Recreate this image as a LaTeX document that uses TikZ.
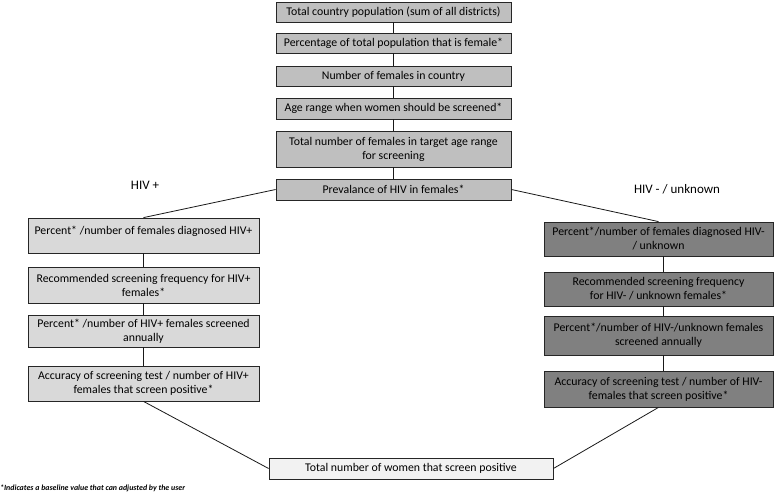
\documentclass[tikz,border=0pt]{standalone}
\usepackage{fontspec}
\setmainfont{Carlito}
\begin{document}
\begin{tikzpicture}[x=1pt,y=-1pt,
  box/.style={draw=black!85, line width=0.8pt, rectangle, align=center, inner sep=2pt, font=\fontsize{11.8}{14}\selectfont},
  topbox/.style={box, fill=black!25, minimum width=235pt},
  leftbox/.style={box, fill=black!15, minimum width=231pt},
  rightbox/.style={box, fill=black!50, minimum width=229pt},
  botbox/.style={box, fill=black!5, minimum width=284pt, minimum height=21pt},
  conn/.style={draw=black!90, line width=0.8pt},
  grp/.style={font=\fontsize{13}{15}\selectfont}]
\useasboundingbox (0,0) rectangle (778,500);
\fill[white] (0,0) rectangle (778,500);
% top column
\node[topbox, minimum height=20pt] (b1) at (393.5,12) {Total country population (sum of all districts)};
\node[topbox, minimum height=20pt] (b2) at (393.5,43) {Percentage of total population that is female*};
\node[topbox, minimum height=20pt] (b3) at (393.5,76) {Number of females in country};
\node[topbox, minimum height=21pt] (b4) at (393.5,108.5) {Age range when women should be screened*};
\node[topbox, minimum height=36pt] (b5) at (393.5,149) {Total number of females in target age range\\for screening};
\node[topbox, minimum height=21pt] (b6) at (393.5,189.5) {Prevalance of HIV in females*};
% labels
\node[grp] (hp) at (145,185) {HIV +};
\node[grp] (hn) at (677,189) {HIV - / unknown};
% left column
\node[leftbox, minimum height=35pt] (l1) at (143.5,235.5) {};
\node[box, draw=none, fill=none] (l1t) at (143.5,231) {Percent* /number of females diagnosed HIV+};
\node[leftbox, minimum height=36pt] (l2) at (143.5,285) {Recommended screening frequency for HIV+\\females*};
\node[leftbox, minimum height=32pt] (l3) at (143.5,331) {Percent* /number of HIV+ females screened\\annually};
\node[leftbox, minimum height=35pt] (l4) at (143.5,383.5) {Accuracy of screening test / number of HIV+\\females that screen positive*};
% right column
\node[rightbox, minimum height=34pt] (r1) at (658.5,239) {Percent*/number of females diagnosed HIV-\\/ unknown};
\node[rightbox, minimum height=34pt] (r2) at (658.5,289) {Recommended screening frequency\\for HIV- / unknown females*};
\node[rightbox, minimum height=39pt] (r3) at (658.5,335.5) {Percent*/number of HIV-/unknown females\\screened annually};
\node[rightbox, minimum height=36pt] (r4) at (658.5,389) {Accuracy of screening test / number of HIV-\\females that screen positive*};
% bottom
\node[botbox] (bt) at (411,468.5) {Total number of women that screen positive};
% footnote
\node[anchor=west, inner sep=0pt, font=\fontsize{7.9}{9}\selectfont\bfseries\itshape] (fn) at (0,488) {*Indicates a baseline value that can adjusted by the user};
% connectors
\draw[conn] (b1) -- (b2);
\draw[conn] (b2) -- (b3);
\draw[conn] (b3) -- (b4);
\draw[conn] (b4) -- (b5);
\draw[conn] (b5) -- (b6);
\draw[conn] (b6.west) -- (l1.north);
\draw[conn] (b6.east) -- (r1.north);
\draw[conn] (l1) -- (l2);
\draw[conn] (l2) -- (l3);
\draw[conn] (l3) -- (l4);
\draw[conn] ([xshift=5pt]r1.south) -- ([xshift=5pt]r2.north);
\draw[conn] ([xshift=5pt]r2.south) -- ([xshift=5pt]r3.north);
\draw[conn] ([xshift=5pt]r3.south) -- ([xshift=5pt]r4.north);
\draw[conn] (l4.south) -- (bt.west);
\draw[conn] (r4.south) -- (bt.east);
\end{tikzpicture}
\end{document}
